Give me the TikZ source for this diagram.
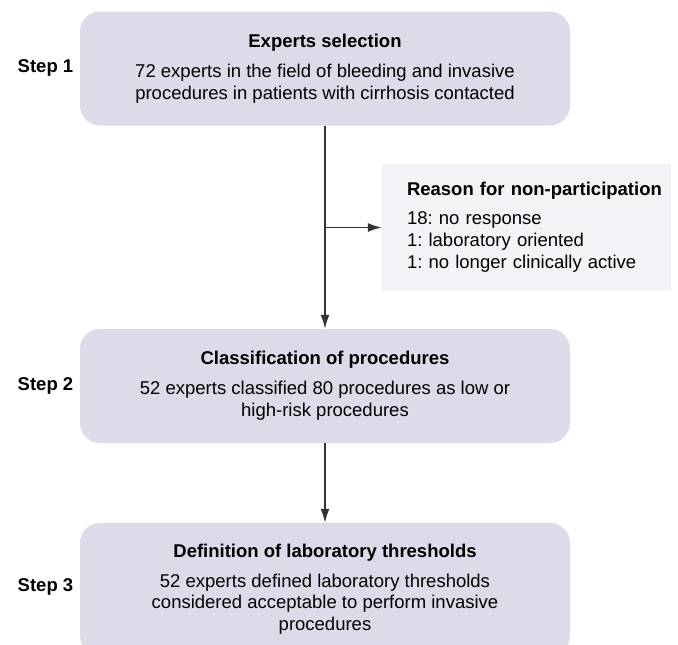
\documentclass[tikz,border=0pt]{standalone}
\usepackage{fontspec}
\setmainfont{Liberation Sans}
\usetikzlibrary{
    arrows.meta,
    positioning,
}
\definecolor{stagefill}{RGB}{221,219,234}
\definecolor{notefill}{RGB}{243,243,247}
\definecolor{linkgray}{RGB}{51,51,51}
\tikzstyle{stage}=[rectangle,fill=stagefill,rounded corners=20pt,align=center,minimum width=490pt,font=\fontsize{18.5}{21.7}\selectfont\frenchspacing]
\tikzstyle{note}=[rectangle,fill=notefill,align=left,inner xsep=0pt,text width=289pt,minimum height=127pt,font=\fontsize{18.5}{21.7}\selectfont\frenchspacing]
\tikzstyle{steplabel}=[font=\fontsize{18.5}{21.7}\selectfont\bfseries]
\tikzstyle{link}=[draw=linkgray,line width=1.6pt,-{Latex[length=14pt,width=9pt]}]

\begin{document}
\begin{tikzpicture}[x=1pt,y=-1pt]
                \useasboundingbox (0,0) rectangle (678,645);
                \node[stage,minimum height=114pt] (select) at (325,68.5) {\textbf{Experts selection}\\[8.3pt]
                    72 experts in the field of bleeding and invasive\\procedures in patients with cirrhosis contacted};
                \node[stage,minimum height=114pt] (classify) at (325,386) {\textbf{Classification of procedures}\\[8.3pt]
                    52 experts classified 80 procedures as low or\\high-risk procedures};
                \node[stage,minimum height=132pt] (thresh) at (325,589) {\textbf{Definition of laboratory thresholds}\\[8.3pt]
                    52 experts defined laboratory thresholds\\considered acceptable to perform invasive\\procedures};
                \node[note] (reason) at (526.5,227.5) {\begin{tabular}{@{\hspace{25pt}}l@{}}
                    \textbf{Reason for non-participation}\\[7.3pt]
                    18: no response\\1: laboratory oriented\\1: no longer clinically active
                    \end{tabular}};
                \node[steplabel] (s1) at (45.5,68) {Step 1};
                \node[steplabel] (s2) at (45.5,386) {Step 2};
                \node[steplabel] (s3) at (45.5,587) {Step 3};
                \draw[link] (select.south) -- (classify.north);
                \draw[link] (select.south |- reason.west) -- (reason.west);
                \draw[link] (classify.south) -- (thresh.north);
            \end{tikzpicture}
\end{document}
